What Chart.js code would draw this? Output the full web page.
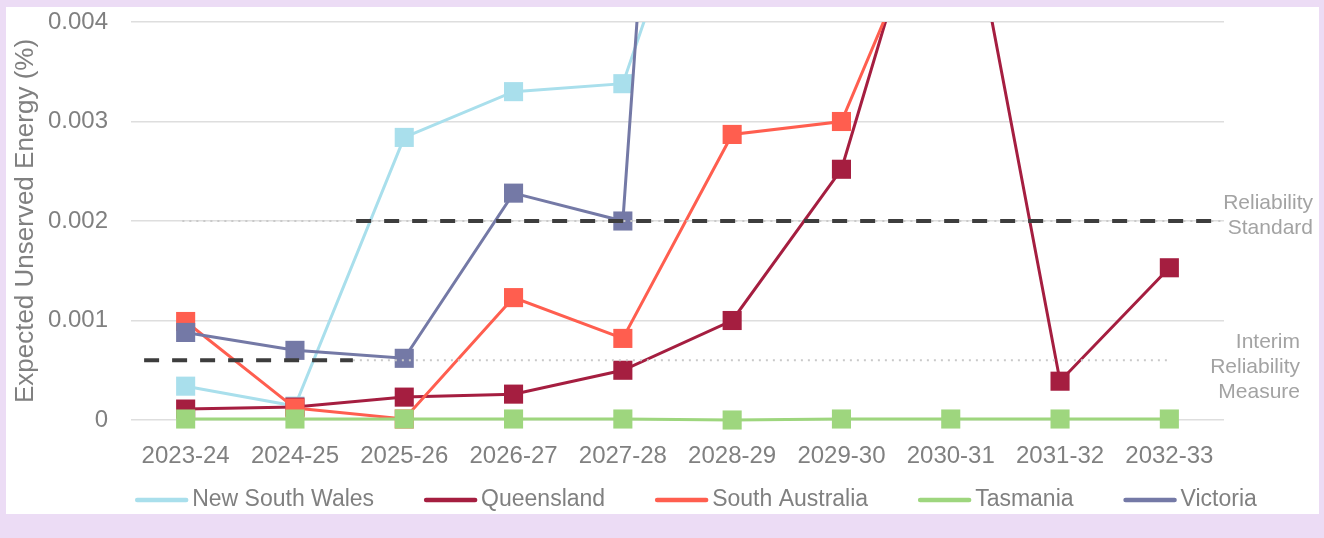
<!DOCTYPE html>
<html>
<head>
<meta charset="utf-8">
<script src="https://cdn.jsdelivr.net/npm/chart.js@4.4.1/dist/chart.umd.min.js"></script>
<style>
  html, body { margin: 0; padding: 0; width: 1324px; height: 538px; overflow: hidden; background: #ecdcf5; }
  #panel { position: absolute; left: 6px; top: 7px; width: 1313px; height: 507px; background: #fff; }
</style>
</head>
<body>
<div id="panel"><canvas id="chart" width="1313" height="507"></canvas></div>
<script>
// categories
var years = ['2023-24', '2024-25', '2025-26', '2026-27', '2027-28', '2028-29', '2029-30', '2030-31', '2031-32', '2032-33'];

// expected unserved energy (%) per region, values above 0.004 run off the top of the plot
var nswValues = [0.00034, 0.00014, 0.00284, 0.0033, 0.00338, 0.0066, 0.0085, 0.0095, 0.0105, 0.0110];
var qldValues = [0.00011, 0.00013, 0.00023, 0.00026, 0.0005, 0.001, 0.00252, 0.0062, 0.00039, 0.00153];
var saValues  = [0.00099, 0.00012, 0.00001, 0.00123, 0.00082, 0.00287, 0.003, 0.0056, 0.0065, 0.0070];
var tasValues = [0.00001, 0.00001, 0.00001, 0.00001, 0.00001, 0.0, 0.00001, 0.00001, 0.00001, 0.00001];
var vicValues = [0.00088, 0.0007, 0.00062, 0.00228, 0.002, 0.0175, 0.0200, 0.0210, 0.0190, 0.0180];

var seriesNames  = ['New South Wales', 'Queensland', 'South Australia', 'Tasmania', 'Victoria'];
var seriesColors = ['#a9dfec', '#a51e40', '#ff5e4f', '#9ed67e', '#7479a6'];

// reliability thresholds, x given in category-index units
var standardLevel = 0.002;
var interimLevel = 0.0006;
var standardDashedX = [1.56, 9.5];
var interimDashedX = [-0.38, 1.53];
var standardDottedX = [-0.03, 9.5];
var interimDottedX = [1.53, 9.0];

// y ticks
var yTicks = [0, 0.001, 0.002, 0.003, 0.004];

var FONT = "'Liberation Sans', Arial, sans-serif";
var TEXT_GREY = '#808080';

function seriesSet(name, values, color, order) {
  return {
    label: name,
    data: values,
    borderColor: color,
    backgroundColor: color,
    borderWidth: 3,
    pointStyle: 'rect',
    pointRadius: 13.5,
    pointBorderWidth: 0,
    pointBackgroundColor: color,
    tension: 0,
    clip: { left: 20, right: 20, top: 0, bottom: 20 },
    order: order
  };
}

function refSet(xs, level, dashed, order) {
  return {
    label: '_ref',
    xAxisID: 'x2',
    data: xs.map(function (x) { return { x: x, y: level }; }),
    borderColor: dashed ? '#3d3d3d' : '#c9c9c9',
    borderWidth: dashed ? 4 : 2,
    borderDash: dashed ? [15, 13] : [2, 5],
    pointRadius: 0,
    clip: 20,
    order: order
  };
}

var allValues = [nswValues, qldValues, saValues, tasValues, vicValues];
var datasets = allValues.map(function (vals, i) {
  return seriesSet(seriesNames[i], vals, seriesColors[i], -i);
});
datasets.push(refSet(standardDottedX, standardLevel, false, -5));
datasets.push(refSet(interimDottedX, interimLevel, false, -6));
datasets.push(refSet(standardDashedX, standardLevel, true, -7));
datasets.push(refSet(interimDashedX, interimLevel, true, -8));

// threshold labels at the right of the plot
var thresholdLabels = {
  id: 'thresholdLabels',
  afterDraw: function (chart) {
    var ctx = chart.ctx, y = chart.scales.y, area = chart.chartArea;
    ctx.save();
    ctx.font = '21px ' + FONT;
    ctx.fillStyle = '#a3a3a3';
    ctx.textAlign = 'right';
    ctx.textBaseline = 'middle';
    var ys = y.getPixelForValue(standardLevel);
    ctx.fillText('Reliability', area.right + 89, ys - 17.5);
    ctx.fillText('Standard', area.right + 89, ys + 7.5);
    var yi = y.getPixelForValue(interimLevel);
    ctx.fillText('Interim', area.right + 76, yi - 18);
    ctx.fillText('Reliability', area.right + 76, yi + 7);
    ctx.fillText('Measure', area.right + 76, yi + 32);
    ctx.restore();
  }
};

// legend row under the axis
var lineLegend = {
  id: 'lineLegend',
  afterDraw: function (chart) {
    var ctx = chart.ctx;
    var items = chart.data.datasets.filter(function (d) { return d.label !== '_ref'; });
    ctx.save();
    ctx.font = '23px ' + FONT;
    ctx.textBaseline = 'middle';
    ctx.textAlign = 'left';
    var lineW = 53, gap = 4, spacing = 50;
    var total = 0;
    items.forEach(function (d, i) {
      total += lineW + gap + ctx.measureText(d.label).width + (i < items.length - 1 ? spacing : 0);
    });
    var x = 690 - total / 2, yc = 493;
    items.forEach(function (d) {
      ctx.strokeStyle = d.borderColor;
      ctx.lineWidth = 4.5;
      ctx.lineCap = 'round';
      ctx.beginPath();
      ctx.moveTo(x + 2, yc);
      ctx.lineTo(x + lineW - 2, yc);
      ctx.stroke();
      ctx.fillStyle = TEXT_GREY;
      ctx.fillText(d.label, x + lineW + gap, yc);
      x += lineW + gap + ctx.measureText(d.label).width + spacing;
    });
    ctx.restore();
  }
};

Chart.defaults.font.family = FONT;

new Chart(document.getElementById('chart').getContext('2d'), {
  type: 'line',
  data: { labels: years, datasets: datasets },
  options: {
    responsive: false,
    animation: false,
    devicePixelRatio: 1,
    events: [],
    layout: { padding: { top: 15, right: 95, bottom: 0, left: 0 } },
    plugins: { legend: { display: false }, tooltip: { enabled: false } },
    scales: {
      x: {
        type: 'category',
        offset: true,
        grid: { display: false },
        border: { display: false },
        ticks: { color: TEXT_GREY, font: { size: 24 }, padding: 14, maxRotation: 0, autoSkip: false },
        afterFit: function (s) { s.height = 94; }
      },
      x2: { type: 'linear', display: false, min: -0.5, max: 9.5 },
      y: {
        min: 0,
        max: 0.004,
        afterBuildTicks: function (s) { s.ticks = yTicks.map(function (v) { return { value: v }; }); },
        ticks: {
          color: TEXT_GREY,
          font: { size: 24 },
          padding: 23,
          callback: function (v) { return v === 0 ? '0' : v.toFixed(3); }
        },
        grid: { color: '#dedede', lineWidth: 1.5, drawTicks: false },
        border: { display: false },
        title: {
          display: true,
          text: 'Expected Unserved Energy (%)',
          color: TEXT_GREY,
          font: { size: 26 },
          padding: { top: 4, bottom: 0 }
        },
        afterFit: function (s) {
          s.width = 125;
          s.paddingTop = 0;
          s.paddingBottom = 0;
        }
      }
    }
  },
  plugins: [thresholdLabels, lineLegend]
});
</script>
</body>
</html>
